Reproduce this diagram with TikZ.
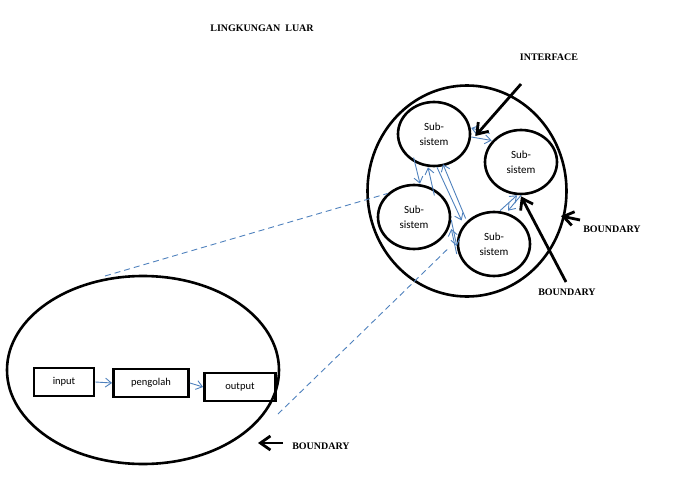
\documentclass[tikz,border=0pt]{standalone}
\usepackage{fontspec}
\usetikzlibrary{shapes.geometric,arrows.meta}
\setmainfont{Carlito}
\newfontfamily\tnr{Liberation Serif}
\definecolor{lb}{RGB}{79,129,189}
\begin{document}
\begin{tikzpicture}[x=1pt,y=-1pt,
 lbl/.style={font=\tnr\bfseries\fontsize{10}{12}\selectfont},
 sub/.style={ellipse,draw,line width=2.6pt,minimum width=72pt,minimum height=64pt,align=center,font=\fontsize{11}{15}\selectfont},
 box/.style={draw,line width=2.8pt,minimum height=28pt,font=\fontsize{10.5}{12}\selectfont},
 ba/.style={-{Straight Barb[length=6pt,width=9pt]},draw=lb,line width=0.9pt},
 bk/.style={-{Straight Barb[length=10pt,width=14pt]},line width=2.8pt},
 dl/.style={dash pattern=on 6pt off 4pt,draw=lb,line width=0.9pt}]
\useasboundingbox (0,0) rectangle (686,498);
\node[lbl] (t) at (262,28) {LINGKUNGAN\ \ LUAR};
\node[ellipse,draw,line width=2.6pt,minimum width=272pt,minimum height=188pt] (L) at (143,370) {};
\node[box,minimum width=60pt] (in) at (64,382) {input};
\node[box,minimum width=75pt] (pe) at (151,383) {pengolah};
\node[box,minimum width=71pt] (ou) at (240,387) {output};
\draw[ba] (in.east) -- (pe.west);
\draw[ba] (pe.east) -- (ou.west);
\node[ellipse,draw,line width=2.6pt,minimum width=199pt,minimum height=211pt] (R) at (467,191) {};
\node[sub] (s1) at (434,134) {Sub-\\sistem};
\node[sub] (s2) at (521,162) {Sub-\\sistem};
\node[sub] (s3) at (414,217) {Sub-\\sistem};
\node[sub] (s4) at (494,244) {Sub-\\sistem};
\draw[ba] ([yshift=-3pt]s1.east) -- ([xshift=-3pt,yshift=-2pt]s2.north west);
\draw[ba] ([xshift=-5pt,yshift=5pt]s2.north west) -- ([yshift=6pt]s1.east);
\draw[ba] ([xshift=6pt]s1.south west) -- ([xshift=6pt]s3.north);
\draw[ba] ([xshift=-6pt,yshift=-2pt]s3.north east) -- ([xshift=-6pt]s1.south);
\draw[ba] ([xshift=3pt]s1.south) -- ([xshift=-6pt]s4.north west);
\draw[ba] ([xshift=-2pt,yshift=2pt]s4.north west) -- ([xshift=9pt,yshift=3pt]s1.south);
\draw[ba] ([xshift=6pt]s4.north) -- ([xshift=-4pt]s2.south);
\draw[ba] (s2.south) -- ([xshift=14pt]s4.north);
\draw[ba] ([yshift=-3pt]s3.east) -- ([yshift=-2pt]s4.west);
\draw[ba] ([yshift=-10pt]s4.west) -- ([yshift=-12pt]s3.east);
\coordinate (d1) at (105,276);
\coordinate (d2) at (278,414);
\draw[dl] (d1) -- (s3.north west);
\draw[dl] (d2) -- ([xshift=-8pt,yshift=-4pt]s4.west);
\node[lbl] (if) at (549,57) {INTERFACE};
\coordinate (c1) at (521,84);
\draw[bk] (c1) -- ([xshift=4pt,yshift=-2pt]s1.east);
\node[lbl] (b1) at (567,292) {BOUNDARY};
\coordinate (c4) at (566,282);
\draw[bk] (c4) -- ([yshift=-1pt]s2.south);
\node[lbl] (b2) at (612,229) {BOUNDARY};
\coordinate (c2) at (580,220);
\coordinate (c6) at (561,216);
\draw[bk] (c2) -- (c6);
\node[lbl] (b3) at (321,446) {BOUNDARY};
\coordinate (c3) at (283,443);
\coordinate (c5) at (258,443);
\draw[bk] (c3) -- (c5);
\end{tikzpicture}
\end{document}
